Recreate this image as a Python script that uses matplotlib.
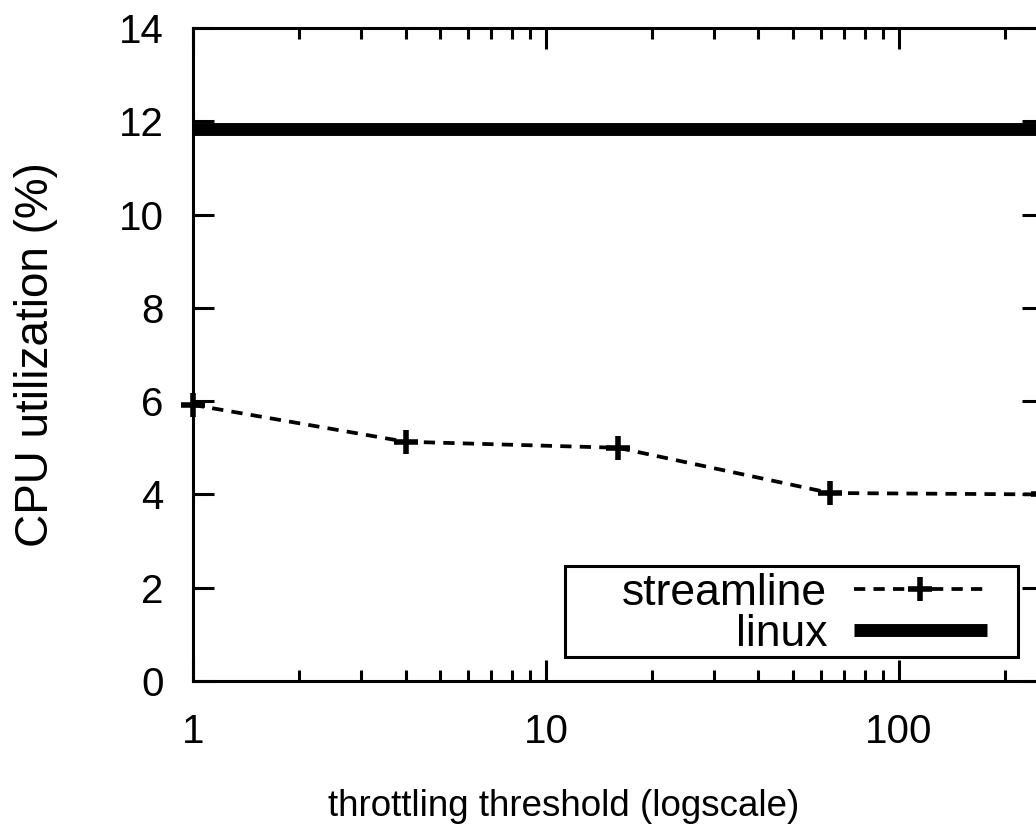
import matplotlib.pyplot as plt
from matplotlib.patches import Rectangle
from matplotlib.ticker import FixedLocator, LogLocator, NullFormatter

plt.rcParams['font.family'] = ['Liberation Sans', 'DejaVu Sans']

# data
thresholds = [1, 4, 16, 64, 256]
streamline = [5.92, 5.13, 5.0, 4.03, 4.0]
linux = [11.83, 11.83, 11.83, 11.83, 11.83]

yticks = [0, 2, 4, 6, 8, 10, 12, 14]
xticks = [1, 10, 100]
xtick_labels = ['1', '10', '100']

W, H = 1036, 825
fig = plt.figure(figsize=(W / 100, H / 100), dpi=100)

# plot area in pixels: left 193, right 1043 (runs past the image), top 28, bottom 681
L, R, T, B = 193, 1043, 28, 681
ax = fig.add_axes([L / W, (H - B) / H, (R - L) / W, (B - T) / H])

ax.plot(thresholds, streamline, color='black', lw=2.7, dashes=(3.0, 2.2),
        marker='+', ms=17, mew=4, clip_on=False, label='streamline')
ax.plot(thresholds, linux, color='black', lw=9.3, solid_capstyle='butt',
        label='linux')

ax.set_xscale('log')
ax.set_xlim(1, 256)
ax.set_ylim(0, 14)

ax.xaxis.set_major_locator(FixedLocator(xticks))
ax.set_xticklabels(xtick_labels)
ax.xaxis.set_minor_locator(LogLocator(base=10, subs=range(2, 10)))
ax.xaxis.set_minor_formatter(NullFormatter())
ax.set_yticks(yticks)

ax.tick_params(which='both', direction='in', top=True, right=True,
               width=2.2, colors='black')
ax.tick_params(which='major', length=15)
ax.tick_params(which='minor', length=8)
ax.tick_params(axis='x', which='major', pad=23, labelsize=29)
ax.tick_params(axis='y', which='major', pad=21, labelsize=29)

for s in ax.spines.values():
    s.set_linewidth(2.2)

ax.set_xlabel('throttling threshold (logscale)', fontsize=26.5, va='baseline')
ax.xaxis.set_label_coords((564 - L) / (R - L), (B - 816) / (B - T))
ax.set_ylabel('CPU utilization (%)', fontsize=33, va='center')
ax.yaxis.set_label_coords((36 - L) / (R - L), 0.5)

# legend box, gnuplot style: text right aligned, sample on the right
box = Rectangle(((565 - L) / (R - L), (B - 657) / (B - T)),
                (1018 - 565) / (R - L), (657 - 566) / (B - T),
                transform=ax.transAxes, facecolor='white', edgecolor='black',
                lw=2.2, zorder=4)
ax.add_patch(box)
leg = ax.legend(loc='center right', bbox_to_anchor=(987 / W, (H - 614) / H),
                bbox_transform=fig.transFigure, frameon=False, markerfirst=False,
                fontsize=32, handlelength=3.0, handletextpad=0.6,
                labelspacing=0, borderpad=0, borderaxespad=0, numpoints=1)
leg.set_zorder(5)

fig.savefig('out.png', dpi=100)
